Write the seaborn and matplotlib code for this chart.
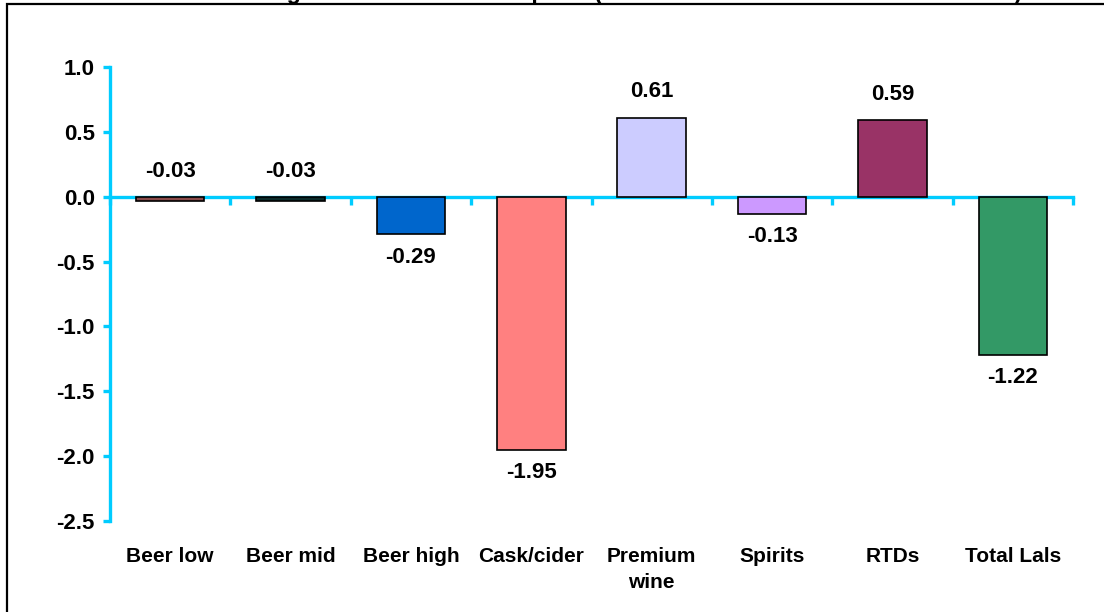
import matplotlib
matplotlib.use("Agg")
import matplotlib.pyplot as plt
import matplotlib.transforms as mtransforms
from matplotlib.patches import Rectangle
import seaborn as sns
import pandas as pd

# Data
categories = ["Beer low", "Beer mid", "Beer high", "Cask/cider", "Premium\nwine",
              "Spirits", "RTDs", "Total Lals"]
values = [-0.03, -0.03, -0.29, -1.95, 0.61, -0.13, 0.59, -1.22]
labels = ["-0.03", "-0.03", "-0.29", "-1.95", "0.61", "-0.13", "0.59", "-1.22"]
colors = ["#8A4A4A", "#0A2A2A", "#0066CC", "#FF8080", "#CCCCFF",
          "#CC99FF", "#993366", "#339966"]
y_ticks = [1.0, 0.5, 0.0, -0.5, -1.0, -1.5, -2.0, -2.5]
title = "Change in share of consumption (index of litres of alcohol 2009 vs 2008)"

AXIS_CYAN = "#00CCFF"

sns.set_theme(style="white")
plt.rcParams["font.family"] = ["Liberation Sans", "DejaVu Sans"]
plt.rcParams["font.weight"] = "bold"
plt.rcParams["text.color"] = "black"
plt.rcParams["ytick.labelcolor"] = "black"

df = pd.DataFrame({"category": categories, "value": values})

fig = plt.figure(figsize=(11.04, 6.12), dpi=100)
ax = fig.add_axes([110 / 1104, 1 - 521 / 612, (1073 - 110) / 1104, (521 - 67) / 612])

sns.barplot(data=df, x="category", y="value", hue="category", palette=colors,
            legend=False, width=0.57, edgecolor="black", linewidth=1.2,
            saturation=1, ax=ax)

ax.set_xlim(-0.5, len(categories) - 0.5)
ax.set_ylim(y_ticks[-1], y_ticks[0])
ax.set_xlabel("")
ax.set_ylabel("")

# Spines: y axis on the left, x axis running along zero
for side in ["top", "right"]:
    ax.spines[side].set_visible(False)
ax.spines["left"].set_color(AXIS_CYAN)
ax.spines["left"].set_linewidth(2.4)
ax.spines["bottom"].set_position(("data", 0))
ax.spines["bottom"].set_color(AXIS_CYAN)
ax.spines["bottom"].set_linewidth(2.4)
ax.spines["bottom"].set_zorder(0.5)

ax.set_yticks(y_ticks)
ax.set_yticklabels([f"{t:.1f}" for t in y_ticks], fontsize=16, fontweight="bold",
                   color="black")
ax.tick_params(axis="y", direction="out", length=5, width=2.4, color=AXIS_CYAN,
               pad=6, left=True)

# Category boundaries as x ticks on the zero line
ax.set_xticks([i - 0.5 for i in range(len(categories) + 1)])
ax.set_xticklabels([])
ax.tick_params(axis="x", direction="out", length=6, width=2.4, color=AXIS_CYAN,
               bottom=True)

# Category names below the plot area
trans = mtransforms.blended_transform_factory(ax.transData, ax.transAxes)
for i, name in enumerate(categories):
    ax.text(i, -0.057, name, transform=trans, ha="center", va="top",
            fontsize=15, fontweight="bold", linespacing=1.45, color="black")

# Value labels
for i, (v, lab) in enumerate(zip(values, labels)):
    if v >= 0 or abs(v) < 0.05:
        ax.annotate(lab, xy=(i, max(v, 0)), xytext=(0, 18.5), textcoords="offset points",
                    ha="center", va="center", fontsize=16, fontweight="bold",
                    color="black")
    else:
        ax.annotate(lab, xy=(i, v), xytext=(0, -16.5), textcoords="offset points",
                    ha="center", va="center", fontsize=16, fontweight="bold",
                    color="black")

# Chart title (sits above the frame)
fig.text(0.567, 1 + 1.5 / 612, title, ha="center", va="baseline",
         fontsize=16.7, fontweight="bold", color="black")

# Outer frame
fig.patches.append(Rectangle((7 / 1104, -0.1), 1.2, 1.1 - 3.5 / 612,
                             transform=fig.transFigure, fill=False,
                             edgecolor="black", linewidth=1.6))

fig.savefig("out.png", dpi=100)
